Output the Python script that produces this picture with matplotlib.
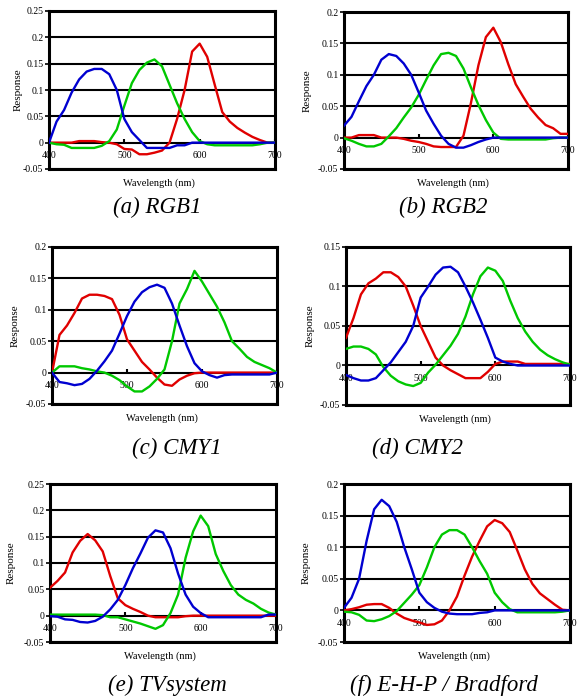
import matplotlib
matplotlib.use('Agg')
from matplotlib import pyplot as plt

plt.rcParams['font.family'] = ['Liberation Serif', 'DejaVu Serif']

wl = list(range(400, 701, 10))
xticks = [400, 500, 600, 700]

# (a) RGB1
red_a = [0, 0, 0, 0, 0.003, 0.003, 0.003, 0.001, 0, -0.003, -0.012, -0.013, -0.022, -0.022, -0.019, -0.015,
         0.0, 0.045, 0.1, 0.173, 0.188, 0.163, 0.11, 0.058, 0.04, 0.028, 0.019, 0.011, 0.005, 0, 0]
green_a = [0, -0.003, -0.004, -0.01, -0.01, -0.01, -0.01, -0.006, 0.003, 0.025, 0.07, 0.113, 0.138, 0.152, 0.158,
           0.145, 0.11, 0.075, 0.045, 0.02, 0.003, -0.003, -0.005, -0.005, -0.005, -0.005, -0.005, -0.005, -0.003, 0, 0]
blue_a = [0, 0.04, 0.062, 0.095, 0.12, 0.135, 0.14, 0.14, 0.13, 0.1, 0.045, 0.02, 0.005, -0.01, -0.01, -0.01,
          -0.01, -0.005, -0.005, 0, 0, 0, 0, 0, 0, 0, 0, 0, 0, 0, 0]

# (b) RGB2
red_b = [0, 0, 0.004, 0.004, 0.004, 0, 0, 0, -0.002, -0.005, -0.007, -0.01, -0.014, -0.015, -0.015, -0.015,
         0.003, 0.055, 0.115, 0.16, 0.175, 0.152, 0.117, 0.085, 0.065, 0.046, 0.032, 0.02, 0.015, 0.006, 0.006]
green_b = [-0.001, -0.005, -0.01, -0.014, -0.014, -0.01, 0.002, 0.015, 0.032, 0.048, 0.068, 0.092, 0.115, 0.133,
           0.135, 0.13, 0.11, 0.08, 0.052, 0.028, 0.008, -0.002, -0.003, -0.003, -0.003, -0.003, -0.003, -0.003,
           -0.001, 0, 0]
blue_b = [0.019, 0.033, 0.058, 0.082, 0.1, 0.124, 0.133, 0.13, 0.118, 0.1, 0.072, 0.043, 0.022, 0.003, -0.01,
          -0.016, -0.016, -0.012, -0.007, -0.003, 0, 0, 0, 0, 0, 0, 0, 0, 0, 0, 0]

# (c) CMY1
red_c = [0, 0.06, 0.075, 0.095, 0.118, 0.124, 0.124, 0.122, 0.117, 0.092, 0.053, 0.035, 0.017, 0.005, -0.008,
         -0.019, -0.021, -0.011, -0.005, -0.001, 0, 0, 0, 0, 0, 0, 0, 0, 0, 0, 0]
green_c = [0, 0.01, 0.01, 0.01, 0.007, 0.005, 0.002, 0, -0.005, -0.012, -0.022, -0.03, -0.03, -0.022, -0.01,
           0.005, 0.05, 0.11, 0.133, 0.162, 0.145, 0.125, 0.105, 0.08, 0.05, 0.038, 0.025, 0.017, 0.012, 0.007, 0]
blue_c = [0, -0.015, -0.017, -0.02, -0.018, -0.01, 0.003, 0.018, 0.035, 0.062, 0.09, 0.113, 0.128, 0.136, 0.14,
          0.135, 0.11, 0.075, 0.042, 0.015, 0.002, -0.004, -0.008, -0.004, -0.003, -0.003, -0.003, -0.003, -0.003,
          -0.003, 0]

# (d) CMY2
red_d = [0.035, 0.06, 0.09, 0.104, 0.11, 0.118, 0.118, 0.112, 0.1, 0.076, 0.05, 0.03, 0.01, 0.0, -0.006, -0.011,
         -0.016, -0.016, -0.016, -0.008, 0.002, 0.005, 0.005, 0.005, 0.002, 0.002, 0.002, 0.002, 0.002, 0.002, 0.002]
green_d = [0.021, 0.024, 0.024, 0.021, 0.014, -0.002, -0.013, -0.02, -0.024, -0.026, -0.022, -0.009, 0.001, 0.013,
           0.025, 0.04, 0.062, 0.09, 0.113, 0.124, 0.12, 0.107, 0.082, 0.06, 0.043, 0.03, 0.02, 0.013, 0.008, 0.004,
           0.001]
blue_d = [-0.012, -0.016, -0.019, -0.019, -0.016, -0.006, 0.004, 0.017, 0.03, 0.05, 0.086, 0.1, 0.115, 0.124, 0.125,
          0.118, 0.1, 0.08, 0.058, 0.035, 0.01, 0.005, 0.002, 0, 0, 0, 0, 0, 0, 0, 0]

# (e) TVsystem
red_e = [0.053, 0.066, 0.082, 0.12, 0.142, 0.155, 0.143, 0.122, 0.075, 0.033, 0.02, 0.013, 0.007, 0.0, -0.003,
         -0.003, -0.003, -0.003, -0.001, 0, 0, 0, 0, 0, 0, 0, 0, 0, 0, 0, 0]
green_e = [0.002, 0.002, 0.002, 0.002, 0.002, 0.002, 0.002, 0.001, -0.003, -0.003, -0.007, -0.011, -0.015, -0.02,
           -0.025, -0.018, 0.005, 0.04, 0.11, 0.16, 0.19, 0.17, 0.117, 0.085, 0.058, 0.04, 0.03, 0.023, 0.013,
           0.006, 0.002]
blue_e = [-0.001, -0.002, -0.007, -0.008, -0.012, -0.013, -0.01, -0.002, 0.012, 0.03, 0.058, 0.09, 0.118, 0.148,
          0.162, 0.158, 0.128, 0.08, 0.04, 0.017, 0.005, -0.003, -0.003, -0.003, -0.003, -0.003, -0.003, -0.003,
          -0.003, 0.002, 0.002]

# (f) E-H-P / Bradford
red_f = [0, 0.002, 0.005, 0.009, 0.01, 0.01, 0.004, -0.005, -0.012, -0.016, -0.019, -0.023, -0.022, -0.016, 0.0,
         0.022, 0.055, 0.085, 0.11, 0.133, 0.143, 0.138, 0.124, 0.095, 0.065, 0.042, 0.027, 0.018, 0.009, 0.001, 0]
green_f = [-0.002, -0.003, -0.007, -0.016, -0.017, -0.014, -0.009, -0.001, 0.012, 0.025, 0.04, 0.068, 0.1, 0.12,
           0.127, 0.127, 0.12, 0.1, 0.078, 0.058, 0.028, 0.013, 0.002, -0.003, -0.003, -0.003, -0.003, -0.003,
           -0.003, -0.002, 0]
blue_f = [0.004, 0.02, 0.05, 0.11, 0.16, 0.175, 0.165, 0.14, 0.1, 0.065, 0.028, 0.013, 0.004, -0.002, -0.005,
          -0.006, -0.006, -0.006, -0.004, -0.003, 0, 0, 0, 0, 0, 0, 0, 0, 0, 0, 0]

captions = ['(a) RGB1', '(b) RGB2', '(c) CMY1', '(d) CMY2', '(e) TVsystem', '(f) E-H-P / Bradford']
ytop = [0.25, 0.2, 0.2, 0.15, 0.25, 0.2]
ylabels = {0.25: '0.25', 0.2: '0.2', 0.15: '0.15', 0.1: '0.1', 0.05: '0.05', 0.0: '0', -0.05: '-0.05'}
series = [(red_a, green_a, blue_a), (red_b, green_b, blue_b), (red_c, green_c, blue_c),
          (red_d, green_d, blue_d), (red_e, green_e, blue_e), (red_f, green_f, blue_f)]

# axes boxes in pixels: left, right, top, bottom
boxes = [(49, 275, 11, 169), (344, 568, 12, 169), (52, 277, 247, 404),
         (346, 570, 247, 405), (50, 276, 484, 642), (344, 570, 484, 642)]
cap_pos = [(157, 207), (443, 207), (177, 448), (418, 448), (167, 685), (444, 685)]
ylab_off = [-26, -32, -32, -31, -34, -33]

W, H = 581, 698
fig = plt.figure(figsize=(W / 100, H / 100), dpi=100)
colors = ['#e00000', '#00c800', '#0000d0']

for i in range(6):
    l, r, t, b = boxes[i]
    ax = fig.add_axes([l / W, 1 - b / H, (r - l) / W, (b - t) / H])
    top = ytop[i]
    ax.set_xlim(400, 700)
    ax.set_ylim(-0.05, top)
    yt = [round(-0.05 + 0.05 * k, 2) for k in range(int(round((top + 0.05) / 0.05)) + 1)]
    ax.set_yticks(yt)
    ax.set_yticklabels([ylabels[round(v, 2)] for v in yt])
    for v in yt:
        ax.axhline(v, color='black', lw=1.5, zorder=1)
    for s, c in zip(series[i], colors):
        ax.plot(wl, s, color=c, lw=1.7, zorder=3)
    ax.set_xticks([])
    for sp in ax.spines.values():
        sp.set_linewidth(2.2)
    ax.tick_params(axis='y', labelsize=7, length=3, width=1.2, pad=1)
    ax.set_ylabel('Response', fontsize=8)
    ax.yaxis.set_label_coords(ylab_off[i] / (r - l), 0.5)
    sec = ax.secondary_xaxis(0.05 / (top + 0.05))
    sec.set_xticks(xticks)
    sec.set_xticklabels([str(x) for x in xticks])
    sec.tick_params(direction='in', length=3, width=1.5, labelsize=7, pad=6)
    sec.spines['bottom'].set_visible(False)
    sec.spines['top'].set_visible(False)
    ax.annotate('Wavelength (nm)', xy=(0.5, 0), xycoords='axes fraction', xytext=(-2, -10),
                textcoords='offset points', ha='center', va='center', fontsize=7.5)
    cx, cy = cap_pos[i]
    fig.text(cx / W, 1 - cy / H, captions[i], ha='center', va='center', fontsize=16.5, style='italic')

fig.savefig('out.png', dpi=100)
